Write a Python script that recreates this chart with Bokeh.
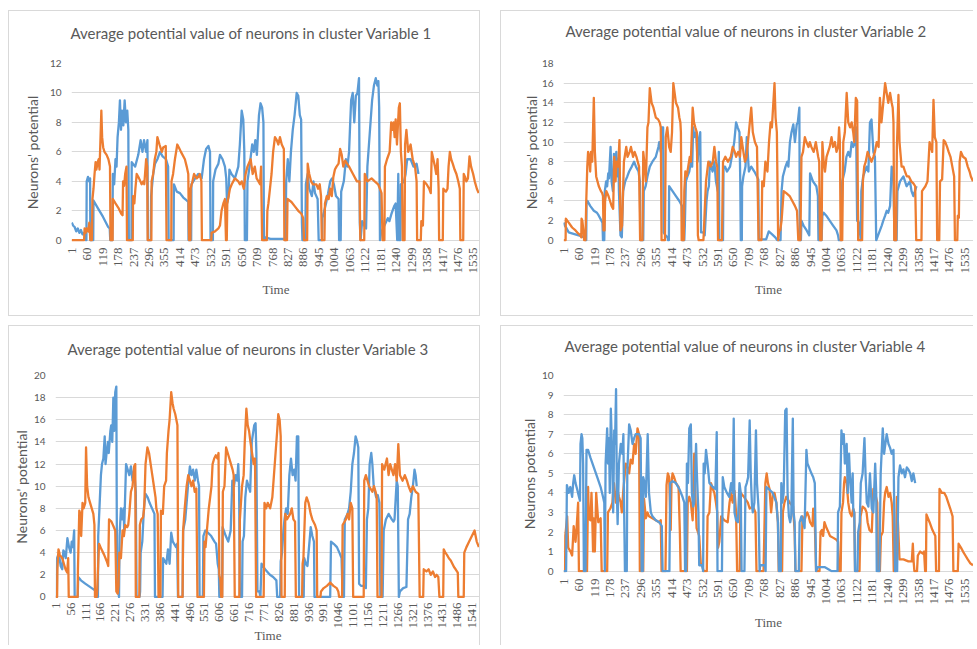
import math
from bokeh.plotting import figure
from bokeh.models import Range1d, FixedTicker, Spacer
from bokeh.layouts import row, column
from bokeh.embed import file_html
from bokeh.resources import INLINE

BLUE = "#5B9BD5"
ORANGE = "#ED7D31"
GRID = "#D9D9D9"
TXT = "#595959"

# ---------------- tick labels ----------------
ticks_59 = [1, 60, 119, 178, 237, 296, 355, 414, 473, 532, 591, 650, 709, 768, 827, 886,
            945, 1004, 1063, 1122, 1181, 1240, 1299, 1358, 1417, 1476, 1535]
ticks_55 = [1, 56, 111, 166, 221, 276, 331, 386, 441, 496, 551, 606, 661, 716, 771, 826,
            881, 936, 991, 1046, 1101, 1156, 1211, 1266, 1321, 1376, 1431, 1486, 1541]
yticks_1 = [0, 2, 4, 6, 8, 10, 12]
yticks_2 = [0, 2, 4, 6, 8, 10, 12, 14, 16, 18]
yticks_3 = [0, 2, 4, 6, 8, 10, 12, 14, 16, 18, 20]
yticks_4 = [0, 1, 2, 3, 4, 5, 6, 7, 8, 9, 10]

# ---------------- Variable 1 (time, potential) ----------------
v1_blue = [(1,1.2),(6,1.0),(12,0.9),(18,0.6),(24,0.8),(30,0.5),(36,0.7),(42,0.4),(48,0.5),(53,0.2),(55,0),(57,0),
 (58,4.0),(63,4.3),(67,4.0),(71,4.2),(72,0),(83,0),(84,2.7),(100,2.2),(120,1.6),(140,0.9),(146,0.8),(148,0),(156,0),
 (158,4.5),(163,3.8),(168,5.5),(172,5.0),(176,7.0),(181,8.0),(185,9.5),(189,7.5),(193,8.8),(198,7.8),(203,9.5),(208,8.0),
 (213,8.8),(217,7.5),(219,0),(229,0),(230,5.3),(243,5.0),(255,5.8),(264,6.8),(271,6.0),(277,6.8),(285,6.0),(290,6.8),
 (292,0),(303,0),(304,3.0),(312,4.5),(319,5.2),(328,5.5),(338,6.0),(348,5.7),(361,5.5),(369,5.0),(371,0),(390,0),
 (391,3.8),(402,3.3),(414,3.2),(427,2.9),(440,2.7),(446,2.6),(447,0),(457,0),(458,3.8),(472,4.2),(484,4.5),(497,4.2),
 (506,5.5),(514,6.2),(523,6.4),(529,6.0),(531,0),(540,0),(541,4.0),(550,4.8),(561,5.2),(567,5.8),(577,5.5),(586,5.0),
 (591,4.2),(594,2.5),(600,3.0),(603,4.8),(611,4.5),(624,4.2),(637,5.0),(643,6.5),(650,8.8),(656,8.2),(660,6.0),(662,0),
 (670,0),(672,4.0),(680,5.0),(690,6.5),(696,6.0),(702,6.8),(708,5.8),(716,8.5),(722,9.3),(728,9.0),(733,8.0),(735,0),
 (740,0.2),(760,0.1),(790,0.1),(815,0.1),(817,0),(820,4.0),(826,5.5),(832,4.0),(838,6.0),(845,7.5),(852,8.5),(860,10.0),
 (866,9.8),(872,8.5),(877,8.2),(880,1.2),(882,0),(893,0),(895,3.8),(902,4.5),(908,3.5),(918,3.0),(924,4.0),(930,3.2),
 (940,2.8),(944,0),(957,0),(958,1.5),(965,2.0),(972,2.5),(980,3.2),(988,4.0),(995,4.2),(1002,3.8),(1010,3.0),(1020,2.8),
 (1022,0),(1028,0),(1030,3.3),(1040,4.0),(1048,5.5),(1054,5.0),(1060,6.0),(1064,7.8),(1068,9.5),(1074,10.0),(1080,8.0),
 (1086,9.8),(1092,10.0),(1098,11.0),(1101,1.2),(1104,0),(1110,1.3),(1118,1.0),(1125,0.8),(1130,5.0),(1136,6.5),
 (1142,8.0),(1148,9.5),(1155,10.5),(1162,11.0),(1168,10.5),(1172,10.8),(1175,9.0),(1178,0),(1182,0.5),(1195,1.0),
 (1208,1.5),(1214,1.3),(1222,1.8),(1232,2.3),(1238,2.5),(1244,0),(1248,4.5),(1250,0),(1256,0),(1258,3.8),(1270,4.0),
 (1276,4.5),(1282,5.5),(1295,5.5),(1306,5.0),(1318,5.2),(1325,4.5)]

v1_orange = [(1,0),(48,0),(50,0.8),(54,0.5),(58,0.8),(64,0.6),(68,1.2),(72,0),(78,0),(80,2.8),(84,3.5),(88,4.5),
 (92,5.3),(95,4.8),(100,5.3),(104,5.5),(107,4.8),(110,6.5),(114,8.8),(117,7.0),(121,6.3),(126,6.0),(134,5.8),(141,5.5),
 (147,5.0),(149,0),(157,0),(158,2.8),(168,2.5),(179,2.2),(190,1.8),(195,1.7),(197,4.0),(201,3.7),(205,4.5),(210,5.0),
 (212,0),(234,0),(235,3.0),(240,2.5),(244,3.5),(249,4.5),(258,4.2),(268,3.8),(274,4.0),(278,3.8),(285,5.5),(289,5.0),
 (291,0),(305,0),(306,4.0),(312,4.5),(318,5.5),(324,6.0),(328,7.0),(336,6.5),(345,6.0),(350,6.3),(360,6.4),(363,0),
 (381,0),(382,4.0),(388,4.5),(395,5.5),(404,6.5),(410,6.3),(418,6.0),(433,5.5),(440,5.0),(446,4.5),(449,0),(454,0),
 (455,3.5),(462,4.0),(468,4.5),(478,4.2),(484,4.3),(490,4.5),(496,4.0),(498,0),(534,0),(535,0.5),(548,0.6),(561,0.8),
 (567,1.0),(573,2.0),(580,2.5),(586,2.8),(590,0),(593,0),(595,2.5),(605,3.5),(612,3.8),(624,4.2),(637,4.0),(643,3.8),
 (650,4.0),(658,3.5),(665,4.5),(672,5.0),(684,5.5),(692,4.5),(700,5.0),(707,4.2),(714,4.0),(720,3.8),(724,5.0),(728,0),
 (746,0),(748,2.0),(752,2.5),(758,3.5),(764,4.5),(770,6.0),(777,7.0),(784,6.8),(790,6.5),(796,7.0),(803,6.5),(811,6.2),
 (813,0),(823,0),(825,2.8),(840,2.6),(853,2.3),(866,2.0),(878,1.8),(885,1.5),(888,0),(900,0),(902,5.2),(908,4.5),
 (915,4.0),(922,3.8),(935,3.8),(942,3.5),(948,3.8),(953,3.0),(956,0),(966,0),(968,2.5),(975,3.0),(982,2.8),(988,3.5),
 (994,3.0),(1000,4.3),(1006,4.8),(1012,5.0),(1020,5.2),(1026,6.2),(1032,5.8),(1038,5.0),(1045,5.4),(1060,5.0),
 (1075,4.5),(1090,4.0),(1100,4.0),(1103,0),(1118,0),(1120,4.5),(1130,4.0),(1146,4.2),(1158,4.0),(1171,3.8),(1178,3.5),
 (1184,3.2),(1188,0),(1195,0),(1197,5.0),(1205,5.5),(1215,6.0),(1221,8.0),(1226,7.5),(1230,8.0),(1234,7.0),(1238,8.2),
 (1243,6.5),(1250,9.0),(1254,9.3),(1258,6.0),(1262,5.0),(1265,0),(1272,0),(1274,6.5),(1279,7.5),(1286,6.0),(1295,6.5),
 (1303,5.5),(1312,5.0),(1318,4.0),(1320,0),(1334,0),(1336,1.3),(1342,1.0),(1346,4.0),(1356,3.8),(1366,3.5),(1372,3.2),
 (1376,6.0),(1382,5.5),(1388,5.0),(1393,4.5),(1398,5.5),(1402,3.5),(1404,0),(1418,0),(1420,3.5),(1430,3.3),(1436,3.5),
 (1440,5.0),(1445,6.0),(1450,5.5),(1456,5.2),(1463,4.8),(1470,4.5),(1477,4.0),(1483,3.5),(1485,0),(1496,0),(1498,4.5),
 (1503,4.3),(1508,4.0),(1514,4.2),(1520,5.7),(1526,5.0),(1534,4.5),(1540,4.0),(1548,3.5),(1555,3.2)]

# ---------------- Variable 2 ----------------
v2_blue = [(1,1.8),(5,1.5),(12,1.2),(20,0.8),(32,0.7),(45,0.6),(58,0.5),(71,0.4),(82,0.2),(85,0),(87,0),(88,3.8),
 (92,4.0),(102,3.5),(116,3.0),(128,2.8),(135,2.5),(145,2.0),(149,1.8),(151,0),(156,0),(158,5.0),(163,6.0),(167,5.5),
 (171,6.8),(174,6.3),(180,9.5),(184,6.0),(189,5.0),(193,8.8),(197,7.0),(202,9.0),(206,6.5),(210,8.3),(212,5.0),
 (218,0.5),(223,0.3),(228,5.0),(236,6.0),(244,6.5),(251,7.0),(261,7.5),(270,8.0),(277,7.5),(287,7.0),(292,6.0),(294,0),
 (305,0),(307,5.0),(314,5.5),(321,6.5),(330,7.5),(340,8.0),(353,8.5),(363,9.5),(366,10.0),(372,9.0),(376,11.5),
 (381,11.5),(383,0.8),(390,0.5),(398,0.3),(400,0),(403,0),(404,5.5),(417,5.0),(430,4.5),(443,4.0),(453,3.5),(455,0),
 (462,0),(464,1.5),(468,6.0),(474,6.5),(481,7.0),(487,8.0),(492,7.5),(496,11.5),(500,10.5),(507,11.0),(513,8.0),
 (519,10.5),(523,11.0),(526,0.8),(535,0.8),(540,0.5),(547,4.0),(551,5.0),(556,5.5),(560,8.0),(570,7.0),(577,8.0),
 (583,6.0),(590,5.0),(594,9.0),(596,0),(610,0),(612,7.5),(618,7.5),(625,7.0),(637,7.5),(647,9.0),(653,10.0),(660,12.0),
 (666,11.5),(673,11.0),(676,6.0),(678,0),(682,0),(683,5.5),(688,6.5),(696,7.5),(701,10.5),(709,7.0),(718,7.5),(730,7.0),
 (740,6.5),(745,6.2),(747,0),(750,0.1),(775,0.1),(785,0.9),(798,0.6),(810,0.3),(818,0),(830,0),(834,5.0),(839,6.5),
 (849,7.5),(856,8.0),(860,7.5),(866,10.0),(872,11.0),(879,11.8),(885,10.0),(892,11.8),(896,12.0),(902,13.5),(904,0),
 (908,0),(910,2.0),(918,1.5),(930,1.0),(940,0.5),(943,6.8),(954,6.0),(967,5.5),(973,4.5),(975,0),(987,0),(990,2.5),
 (995,2.8),(1005,2.5),(1018,2.0),(1031,1.5),(1044,1.0),(1050,0.5),(1053,0),(1063,0),(1066,6.0),(1075,7.0),(1082,8.5),
 (1089,9.0),(1096,8.5),(1102,10.0),(1108,9.5),(1115,10.0),(1119,11.5),(1123,2.0),(1130,1.8),(1135,0.5),(1137,0),
 (1139,5.0),(1146,6.5),(1159,7.5),(1166,7.0),(1172,12.0),(1178,12.3),(1185,9.0),(1191,8.5),(1196,0),(1203,0.5),
 (1217,1.5),(1223,2.0),(1230,2.5),(1236,3.0),(1242,2.8),(1249,3.5),(1255,7.5),(1261,7.0),(1266,0),(1274,0),(1277,5.0),
 (1287,6.0),(1300,6.5),(1312,5.5),(1325,6.0),(1331,5.0),(1338,4.5),(1344,5.0),(1350,5.5)]

v2_orange = [(1,0),(8,0),(9,2.2),(20,1.8),(33,1.3),(46,1.0),(56,0.7),(65,0.5),(68,0.3),(69,2.2),(72,2.0),(76,1.0),
 (79,0),(84,0),(87,4.0),(91,7.5),(94,9.0),(98,8.5),(102,7.0),(105,9.0),(110,8.0),(116,14.5),(120,9.0),(125,6.5),
 (130,6.0),(135,5.5),(143,5.0),(148,4.8),(151,4.5),(153,1.0),(157,1.0),(159,4.0),(164,5.0),(172,4.5),(178,4.0),
 (184,3.5),(190,3.2),(194,8.5),(199,6.0),(203,8.0),(209,7.5),(214,10.2),(218,1.0),(224,1.5),(231,8.0),(240,9.5),
 (245,8.5),(253,9.0),(258,9.5),(266,8.5),(272,9.0),(279,8.5),(284,8.0),(289,7.5),(293,0),(302,0),(305,9.0),(311,7.5),
 (315,6.0),(321,11.5),(325,12.0),(330,15.5),(337,14.0),(344,13.5),(353,12.5),(362,12.3),(368,12.0),(372,11.5),(375,0),
 (388,0),(391,10.5),(397,11.5),(404,9.5),(410,9.0),(415,11.0),(420,16.0),(425,15.0),(430,14.0),(438,13.5),(443,12.5),
 (447,12.0),(449,11.0),(452,0),(460,0),(462,5.0),(466,7.0),(471,6.5),(477,7.5),(483,8.5),(487,8.0),(494,13.5),
 (499,12.0),(504,11.5),(510,11.0),(514,0.5),(517,0),(535,0),(537,1.0),(540,3.0),(545,6.0),(554,8.0),(563,7.5),
 (571,8.0),(577,9.5),(583,8.0),(588,7.5),(591,0),(606,0),(610,8.0),(619,8.5),(629,8.0),(640,8.5),(647,9.5),(655,9.0),
 (660,8.5),(668,9.0),(675,8.5),(680,10.5),(688,9.0),(694,8.0),(700,8.5),(709,11.0),(718,13.5),(724,11.0),(732,10.0),
 (740,9.5),(746,0),(757,0),(760,6.0),(766,5.5),(772,8.0),(780,7.0),(786,10.0),(792,12.0),(797,11.5),(807,16.0),
 (811,12.5),(816,11.0),(821,0),(825,1.0),(829,1.0),(834,2.0),(842,5.0),(852,4.8),(865,4.5),(875,4.0),(885,3.5),
 (893,3.0),(898,0),(906,0),(910,8.5),(916,9.0),(923,10.5),(929,10.0),(937,9.5),(942,10.0),(948,9.5),(957,9.0),
 (965,10.0),(974,8.5),(978,8.0),(981,0),(987,0),(990,10.0),(995,8.0),(1000,7.0),(1006,8.5),(1012,9.0),(1018,9.5),
 (1025,10.5),(1031,9.5),(1038,10.0),(1044,9.0),(1050,9.5),(1054,11.5),(1057,10.0),(1060,0),(1066,0),(1070,10.0),
 (1076,11.0),(1083,15.0),(1089,12.0),(1096,11.5),(1102,12.0),(1108,11.0),(1112,10.0),(1118,14.5),(1123,14.2),(1127,0),
 (1142,0),(1145,6.0),(1150,7.5),(1156,8.0),(1163,9.0),(1170,8.5),(1178,8.0),(1185,8.5),(1191,9.0),(1198,10.0),
 (1205,9.5),(1210,14.5),(1216,12.0),(1223,14.0),(1230,16.0),(1236,15.0),(1242,14.0),(1249,15.0),(1255,14.0),
 (1259,13.5),(1262,12.0),(1265,0),(1272,0),(1275,9.5),(1281,14.8),(1285,10.0),(1293,7.5),(1300,7.5),(1306,7.0),
 (1313,6.5),(1321,6.5),(1330,6.0),(1338,5.8),(1345,5.5),(1349,0),(1369,0),(1371,5.0),(1384,5.5),(1392,6.0),
 (1400,10.0),(1405,9.5),(1410,9.0),(1415,14.3),(1420,10.5),(1426,10.0),(1429,0),(1437,0),(1440,6.0),(1448,6.2),
 (1454,10.2),(1460,10.0),(1467,9.5),(1473,9.0),(1480,8.5),(1487,7.5),(1494,6.5),(1497,0),(1506,0),(1508,2.5),
 (1512,2.3),(1515,8.0),(1520,9.0),(1528,8.5),(1538,8.3),(1546,7.5),(1553,7.0),(1558,6.5),(1566,6.0)]

# ---------------- Variable 3 ----------------
v3_blue = [(1,0),(5,0),(6,3.5),(10,3.8),(15,3.5),(19,2.8),(25,2.5),(29,4.2),(34,4.0),(38,3.5),(44,5.3),(50,4.5),
 (56,4.0),(60,5.0),(64,4.5),(69,6.0),(71,0),(82,0),(84,1.8),(94,1.5),(110,1.2),(122,1.0),(134,0.8),(146,0.6),(152,0.4),
 (154,0),(157,0),(158,5.5),(168,11.0),(172,12.0),(177,12.5),(182,14.5),(185,12.0),(189,13.0),(194,14.0),(197,13.0),
 (203,15.0),(206,15.5),(210,14.0),(214,18.0),(217,15.0),(221,18.5),(225,19.0),(227,5.0),(229,0.5),(233,0.3),(235,0),
 (237,5.5),(242,8.0),(247,7.0),(252,8.0),(254,6.0),(261,12.0),(267,11.5),(273,11.0),(279,11.8),(285,10.5),(291,11.5),
 (297,9.5),(300,0),(311,0),(313,0.5),(315,4.0),(321,5.0),(327,8.0),(333,9.3),(341,9.0),(348,8.5),(357,8.0),(366,7.5),
 (368,0),(396,0),(398,3.5),(410,3.0),(416,4.3),(422,3.0),(428,5.8),(434,5.0),(446,4.5),(450,4.8),(453,0),(470,0),
 (472,6.0),(480,7.0),(485,8.5),(490,10.0),(497,11.8),(503,11.0),(509,11.5),(515,10.5),(521,11.5),(527,10.5),(531,10.0),
 (533,0),(545,0),(547,5.5),(554,6.0),(564,5.8),(576,5.5),(588,5.0),(594,4.8),(600,3.0),(604,2.5),(606,0),(616,0),
 (618,6.3),(630,5.5),(639,5.0),(648,6.0),(654,10.5),(660,10.0),(666,11.0),(672,10.5),(676,12.0),(679,10.0),(682,0),
 (690,0),(692,5.0),(697,5.5),(702,9.0),(708,10.5),(714,10.0),(720,9.5),(726,14.0),(735,15.5),(740,15.7),(743,13.0),
 (747,0.5),(754,0.5),(758,0),(762,3.0),(775,2.5),(793,2.0),(805,1.8),(817,1.5),(820,0),(831,0),(833,3.2),(838,4.0),
 (843,6.0),(847,7.0),(853,8.0),(859,7.5),(865,11.0),(871,12.5),(877,11.0),(883,11.5),(888,10.5),(893,14.5),(898,14.5),
 (901,0),(918,0),(920,3.5),(926,3.0),(932,2.8),(936,4.0),(944,6.3),(950,5.5),(956,5.0),(958,0),(1016,0),(1019,5.0),
 (1029,4.8),(1041,4.5),(1050,4.0),(1058,3.5),(1062,0),(1067,0),(1070,7.0),(1080,7.5),(1086,8.0),(1092,9.5),(1098,12.0),
 (1104,13.0),(1110,14.5),(1116,14.0),(1120,13.5),(1123,1.2),(1130,1.0),(1140,1.0),(1148,0.8),(1152,7.0),(1157,8.0),
 (1162,12.0),(1168,13.0),(1172,12.0),(1177,10.0),(1186,9.0),(1192,9.2),(1198,8.5),(1202,0),(1210,0),(1214,6.0),
 (1222,7.0),(1232,7.5),(1244,7.0),(1250,6.8),(1254,7.0),(1262,10.5),(1266,10.0),(1270,0),(1274,0.5),(1286,0.8),
 (1298,0.9),(1304,7.0),(1310,7.5),(1316,9.0),(1322,10.0),(1328,11.5),(1332,11.0),(1336,10.0)]

v3_orange = [(1,0),(6,0),(7,2.5),(11,4.3),(16,3.8),(25,3.5),(31,3.0),(37,2.5),(43,2.2),(47,3.5),(49,0),(82,0),
 (83,2.5),(88,7.8),(92,7.5),(95,5.5),(100,8.5),(104,8.0),(110,8.5),(113,13.5),(117,10.0),(122,9.0),(128,8.5),(134,8.0),
 (140,7.5),(144,6.5),(146,0),(152,0),(154,0.5),(161,4.8),(170,4.3),(180,3.8),(190,3.2),(195,2.8),(198,7.0),(207,6.8),
 (216,6.3),(221,6.0),(225,0.5),(230,0.3),(233,1.0),(236,4.0),(242,3.5),(248,6.0),(253,5.5),(258,6.5),(265,6.3),
 (269,6.5),(273,7.5),(279,9.5),(285,10.0),(291,11.8),(295,12.0),(297,0),(310,0),(312,6.5),(317,7.0),(324,7.2),
 (328,8.0),(333,12.0),(340,13.5),(346,13.0),(352,12.0),(358,11.0),(364,10.0),(370,9.0),(373,8.0),(378,7.5),(381,0),
 (388,0),(390,7.8),(397,7.5),(402,10.0),(409,10.5),(412,13.0),(418,15.0),(422,16.0),(428,18.5),(433,17.5),(437,17.0),
 (443,16.5),(447,16.0),(451,15.5),(454,0),(470,0),(472,6.0),(478,8.0),(485,10.0),(491,11.0),(497,10.5),(503,10.0),
 (509,10.5),(515,9.5),(521,9.8),(525,0),(549,0),(551,5.0),(555,4.5),(560,6.0),(567,8.0),(572,9.0),(577,10.0),
 (581,12.0),(587,12.5),(593,12.8),(599,12.5),(603,13.0),(606,2.0),(610,1.5),(613,0),(617,0),(619,9.5),(625,10.0),
 (631,13.5),(637,13.0),(643,12.5),(649,12.0),(655,11.5),(659,11.0),(663,0),(680,0),(682,7.0),(690,10.0),(696,11.0),
 (700,14.0),(706,17.0),(711,15.5),(716,15.0),(721,14.0),(727,13.0),(733,12.0),(738,12.5),(742,0),(770,0),(773,8.5),
 (779,8.0),(785,8.5),(794,8.0),(802,9.0),(808,11.0),(814,13.0),(820,15.0),(824,16.5),(829,16.0),(833,14.5),(836,0),
 (848,0),(850,7.5),(856,7.0),(868,7.5),(874,8.0),(880,7.0),(886,6.8),(889,0),(912,0),(914,3.0),(917,3.5),(924,8.5),
 (929,9.0),(936,8.5),(944,7.5),(950,7.0),(960,6.5),(966,6.0),(968,0),(980,0),(982,0.5),(992,0.8),(1004,1.0),
 (1016,1.3),(1028,1.0),(1040,0.8),(1046,0.5),(1049,0),(1060,0),(1062,6.5),(1074,7.0),(1080,7.5),(1086,7.0),(1092,8.5),
 (1098,8.0),(1101,0),(1140,0),(1142,10.5),(1148,11.0),(1154,10.5),(1160,10.0),(1172,9.5),(1178,10.0),(1184,9.5),
 (1188,9.0),(1191,0),(1206,0),(1208,12.0),(1216,11.5),(1226,12.5),(1232,11.0),(1238,12.0),(1244,11.5),(1250,11.0),
 (1256,12.0),(1262,10.5),(1268,13.8),(1274,11.0),(1284,10.5),(1292,11.0),(1300,10.5),(1306,10.0),(1314,9.5),
 (1322,10.0),(1332,9.5),(1342,9.3),(1347,0),(1360,0),(1362,2.5),(1372,2.3),(1380,2.5),(1388,2.0),(1396,2.3),
 (1404,1.8),(1410,2.0),(1416,1.8),(1420,0),(1434,0),(1436,4.3),(1442,4.0),(1448,3.8),(1455,3.5),(1462,3.3),(1468,3.0),
 (1474,2.7),(1480,2.5),(1488,2.2),(1490,0),(1510,0),(1512,4.0),(1520,4.5),(1530,5.0),(1540,5.5),(1550,6.0),(1558,5.0),
 (1566,4.5)]

# ---------------- Variable 4 ----------------
v4_blue = [(1,0),(10,0),(13,4.4),(20,4.0),(26,4.3),(33,3.8),(37,4.5),(41,4.9),(46,4.5),(52,4.2),(59,3.8),(63,3.6),
 (65,6.5),(69,7.0),(72,6.8),(75,5.5),(78,0),(84,0),(88,6.2),(94,6.2),(103,5.8),(116,5.3),(129,4.8),(142,4.3),(151,3.8),
 (156,3.5),(158,0),(161,5.5),(167,7.3),(170,5.5),(174,6.8),(177,4.0),(181,8.3),(186,6.0),(190,3.0),(194,7.2),(197,6.5),
 (201,9.3),(204,4.0),(207,2.4),(212,5.5),(219,6.5),(225,6.0),(229,7.0),(232,3.0),(235,0),(242,0),(244,5.0),(251,7.5),
 (257,7.2),(264,6.5),(270,6.8),(276,7.0),(289,7.0),(295,6.8),(299,0),(303,0),(305,4.8),(310,4.5),(315,3.8),(322,7.0),
 (327,4.0),(334,3.0),(340,2.8),(353,2.6),(366,2.5),(376,2.3),(379,0),(405,0),(408,4.5),(417,4.6),(430,4.5),(443,4.2),
 (455,3.8),(462,3.5),(465,0),(469,0),(472,5.5),(476,4.5),(481,7.3),(487,7.5),(491,4.0),(496,3.3),(500,3.5),(507,6.5),
 (510,5.0),(516,3.0),(519,0.3),(530,0.3),(534,0),(536,5.5),(540,5.0),(545,6.2),(551,5.5),(558,4.5),(571,4.3),
 (581,4.2),(586,7.1),(589,0),(606,0),(609,4.8),(615,4.3),(625,4.0),(634,3.8),(641,4.5),(647,4.0),(651,7.8),(654,3.0),
 (660,2.6),(667,2.5),(673,4.5),(678,4.0),(681,0),(692,0),(696,4.3),(701,4.5),(706,4.8),(712,7.7),(716,5.0),(721,3.3),
 (724,3.0),(730,3.5),(736,7.2),(740,4.5),(746,3.2),(750,0),(752,0.3),(770,0.3),(773,0),(776,4.3),(785,4.2),(800,4.0),
 (814,3.5),(820,2.5),(824,0),(831,0),(833,4.5),(837,3.5),(842,4.0),(848,8.2),(853,8.3),(857,4.0),(862,2.8),(867,2.5),
 (871,2.8),(877,7.8),(880,3.0),(884,2.5),(887,0),(900,0),(903,2.5),(910,2.8),(916,2.5),(922,2.2),(929,6.2),(933,5.5),
 (939,5.3),(948,5.0),(955,4.8),(961,4.5),(966,0),(972,0.2),(1000,0.2),(1013,0.1),(1025,0),(1048,0),(1050,3.0),
 (1057,3.3),(1063,7.2),(1067,6.5),(1072,7.0),(1076,5.5),(1083,6.5),(1087,4.0),(1092,6.0),(1095,5.0),(1102,3.5),
 (1106,5.0),(1108,3.2),(1112,3.0),(1115,0),(1124,0),(1127,2.0),(1133,2.5),(1137,4.5),(1144,5.0),(1151,6.8),(1155,5.0),
 (1160,3.5),(1166,3.3),(1172,5.0),(1179,3.2),(1185,3.0),(1192,5.5),(1196,4.0),(1198,0),(1208,0),(1213,5.0),(1221,7.3),
 (1226,6.0),(1231,6.5),(1236,7.0),(1243,6.5),(1249,6.3),(1255,6.0),(1262,6.2),(1268,0),(1276,0),(1281,4.8),(1287,5.4),
 (1294,5.0),(1300,5.2),(1306,4.8),(1313,5.3),(1319,5.2),(1326,5.0),(1332,4.6),(1338,5.0),(1345,4.5)]

v4_orange = [(1,0),(6,0),(7,1.8),(14,2.8),(18,1.2),(27,1.0),(33,0.8),(39,2.3),(46,1.5),(50,2.2),(56,3.5),(59,0),
 (90,0),(94,4.3),(97,2.7),(103,2.6),(107,4.0),(110,2.7),(113,1.0),(116,2.7),(120,1.0),(125,4.0),(133,2.5),(142,2.7),
 (146,0),(167,0),(170,3.0),(179,3.2),(187,3.5),(193,4.5),(200,3.5),(206,4.2),(212,3.8),(219,3.5),(223,3.0),(228,4.0),
 (238,5.5),(245,5.3),(251,5.0),(257,5.7),(264,5.5),(270,6.5),(276,6.0),(283,7.3),(289,7.0),(292,0),(305,0),(308,3.7),
 (315,2.7),(321,3.0),(327,2.8),(340,2.7),(353,2.6),(366,2.5),(372,2.6),(375,0),(390,0),(394,4.4),(399,5.0),(404,4.8),
 (410,2.1),(413,4.5),(417,5.0),(423,4.8),(430,4.5),(440,4.3),(445,2.0),(448,0),(472,0),(475,3.5),(481,3.8),(487,3.5),
 (494,2.6),(500,6.0),(504,4.0),(509,2.2),(514,2.0),(519,1.8),(525,0.4),(532,0.2),(536,0),(548,0),(551,2.8),(558,3.0),
 (564,4.5),(571,4.2),(577,4.0),(583,3.5),(588,3.0),(591,1.2),(596,1.5),(603,2.8),(615,2.6),(628,2.5),(635,3.5),
 (641,4.0),(647,3.5),(654,4.1),(660,3.0),(664,0),(674,0),(677,4.0),(690,3.8),(705,3.5),(712,3.2),(725,3.3),(734,3.0),
 (738,0),(765,0),(772,4.5),(777,5.0),(782,4.5),(788,4.2),(794,3.0),(801,4.0),(807,4.0),(814,3.5),(820,2.5),(823,0),
 (836,0),(839,3.0),(845,3.5),(852,3.8),(865,3.5),(878,3.3),(884,2.0),(887,0),(910,0),(914,2.8),(920,2.5),(926,2.8),
 (932,3.0),(938,2.8),(943,2.5),(952,2.3),(955,3.2),(961,2.5),(966,0),(979,0),(983,2.0),(988,2.1),(993,1.8),(998,2.5),
 (1006,2.2),(1013,2.0),(1019,1.8),(1032,1.7),(1044,1.6),(1050,1.5),(1053,0),(1060,0),(1063,3.0),(1069,3.5),(1073,4.5),
 (1076,4.8),(1083,4.5),(1089,3.5),(1095,3.0),(1102,2.8),(1108,3.2),(1112,3.0),(1115,0),(1132,0),(1136,2.8),(1144,3.3),
 (1153,3.2),(1159,3.0),(1163,2.5),(1170,2.1),(1179,2.0),(1185,4.2),(1195,3.8),(1200,3.5),(1203,0),(1210,0),(1214,1.8),
 (1221,2.0),(1226,3.5),(1230,4.0),(1236,4.3),(1243,3.8),(1249,4.0),(1255,3.5),(1259,2.8),(1263,0),(1270,0),(1275,3.8),
 (1279,2.5),(1285,0.6),(1300,0.6),(1319,0.5),(1332,0.5),(1336,1.4),(1339,0.5),(1342,0),(1352,0),(1355,0.8),(1364,1.0),
 (1374,0.9),(1379,1.0),(1383,0),(1386,0),(1388,2.9),(1400,2.5),(1411,2.1),(1422,1.8),(1425,0),(1436,0),(1438,4.2),
 (1447,4.0),(1456,4.0),(1464,3.8),(1479,3.2),(1488,2.8),(1491,0),(1508,0),(1511,1.4),(1520,1.2),(1528,1.0),(1537,0.8),
 (1546,0.6),(1556,0.4),(1566,0.3)]

titles = ["Average potential value of neurons in cluster Variable 1",
          "Average potential value of neurons in cluster Variable 2",
          "Average potential value of neurons in cluster Variable 3",
          "Average potential value of neurons in cluster Variable 4"]
ylabels = ["Neurons' potential", "Neurons' potential", "Neurons' potential", "Neurons potential"]


def panel(title, ylab, yticks, xticks, xend, blue, orange, w, h, borders, title_offset,
          title_standoff, ylab_standoff, xlab_standoff, tick_standoff, styles, blue_top=False):
    ymax = yticks[-1]
    ml, mr, mt, mb = borders
    p = figure(width=w, height=h, output_backend="svg", toolbar_location=None,
               x_range=Range1d(0, xend), y_range=Range1d(-ymax * 0.007, ymax),
               min_border_left=ml, min_border_right=mr, min_border_top=mt, min_border_bottom=mb,
               styles=styles)
    p.frame_align = False
    p.background_fill_color = "white"
    p.border_fill_color = "white"
    p.outline_line_color = None

    # second (blank) line lifts the title block away from the plot frame
    p.title.text = title + "\n "
    p.title.align = "left"
    p.title.offset = title_offset
    p.title.standoff = title_standoff
    p.title.text_line_height = 1.0
    p.title.text_font = "Lato"
    p.title.text_font_size = "15px"
    p.title.text_font_style = "normal"
    p.title.text_color = TXT

    xa = p.xaxis[0]
    xa.ticker = FixedTicker(ticks=xticks)
    xa.major_label_orientation = math.pi / 2
    xa.major_label_text_font = "Liberation Serif"
    xa.major_label_text_font_size = "13px"
    xa.major_label_text_color = TXT
    xa.major_label_standoff = tick_standoff
    xa.major_tick_out = 0
    xa.major_tick_in = 0
    xa.major_tick_line_color = None
    xa.minor_tick_line_color = None
    xa.axis_line_color = None
    xa.axis_label = "Time"
    xa.axis_label_text_font = "Liberation Serif"
    xa.axis_label_text_font_size = "13px"
    xa.axis_label_text_font_style = "normal"
    xa.axis_label_text_color = TXT
    xa.axis_label_standoff = xlab_standoff

    ya = p.yaxis[0]
    ya.ticker = FixedTicker(ticks=yticks)
    ya.axis_line_color = None
    ya.major_tick_out = 0
    ya.major_tick_in = 0
    ya.major_tick_line_color = None
    ya.minor_tick_line_color = None
    ya.major_label_text_font = "Lato"
    ya.major_label_text_font_size = "10px"
    ya.major_label_text_color = TXT
    ya.major_label_standoff = 10
    ya.axis_label = ylab
    ya.axis_label_text_font = "Lato"
    ya.axis_label_text_font_size = "14px"
    ya.axis_label_text_font_style = "normal"
    ya.axis_label_text_color = TXT
    ya.axis_label_standoff = ylab_standoff

    p.xgrid.grid_line_color = None
    p.ygrid.grid_line_color = GRID
    p.ygrid.grid_line_width = 1

    bt = [a for a, b in blue]
    bv = [b for a, b in blue]
    ot = [a for a, b in orange]
    ov = [b for a, b in orange]
    if blue_top:
        p.line(ot, ov, line_color=ORANGE, line_width=2.3, line_join="round")
        p.line(bt, bv, line_color=BLUE, line_width=2.3, line_join="round")
    else:
        p.line(bt, bv, line_color=BLUE, line_width=2.3, line_join="round")
        p.line(ot, ov, line_color=ORANGE, line_width=2.3, line_join="round")
    return p


B = "1px solid #D9D9D9"
p1 = panel(titles[0], ylabels[0], yticks_1, ticks_59, 1562, v1_blue, v1_orange, 472, 306,
           (62, 1, 52, 76), -1, 8, 6, 5, 6, {"border": B})
p2 = panel(titles[1], ylabels[1], yticks_2, ticks_59, 1568, v2_blue, v2_orange, 473, 306,
           (62, 1, 52, 76), 2, 12, -1, 5, 6,
           {"border-top": B, "border-left": B, "border-bottom": B})
p3 = panel(titles[2], ylabels[2], yticks_3, ticks_55, 1572, v3_blue, v3_orange, 472, 320,
           (37, 1, 49, 48), 12, 0, 1, -4, 4,
           {"border-top": B, "border-left": B, "border-right": B})
p4 = panel(titles[3], ylabels[3], yticks_4, ticks_59, 1568, v4_blue, v4_orange, 473, 320,
           (62, 1, 49, 74), 1, 5, 1, 7, 6,
           {"border-top": B, "border-left": B}, blue_top=True)

layout = column(Spacer(height=10),
                row(Spacer(width=8), p1, Spacer(width=20), p2),
                Spacer(height=9),
                row(Spacer(width=8), p3, Spacer(width=20), p4))

open("out.html", "w").write(file_html(layout, INLINE))
